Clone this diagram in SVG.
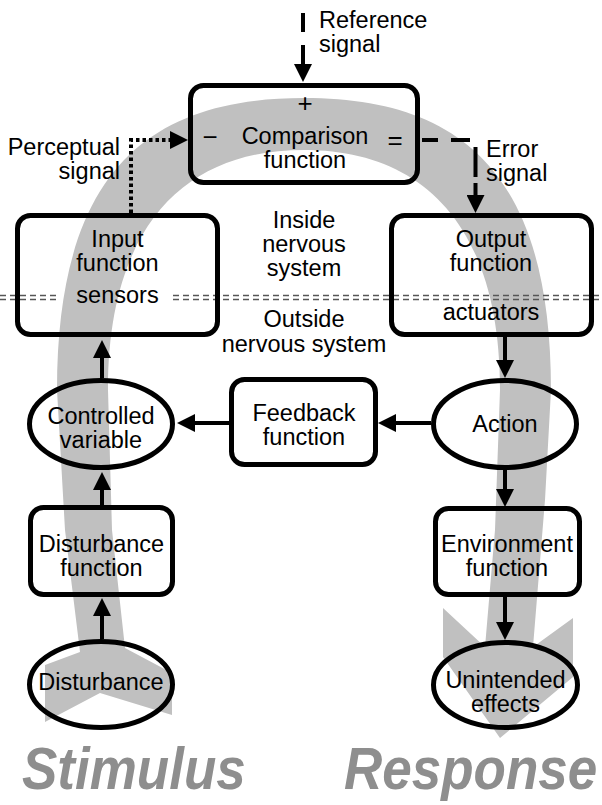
<svg xmlns="http://www.w3.org/2000/svg" width="602" height="805" viewBox="0 0 602 805">
<style>
text{font-family:"Liberation Sans",Arial,Helvetica,sans-serif;font-size:23.5px;fill:#000}
.m{text-anchor:middle}
.e{text-anchor:end}
.sym{font-size:26px}
.node{fill:none;stroke:#000;stroke-width:5}
.c{fill:none;stroke:#000;stroke-width:4}
.dash2{fill:none;stroke:#555;stroke-width:1.3;stroke-dasharray:6 4}
.big{font-size:53px;font-weight:bold;font-style:italic;fill:#8e8e8e}
</style>
<defs>
<marker id="ah" markerUnits="userSpaceOnUse" markerWidth="18" markerHeight="18" refX="0" refY="9" orient="auto" viewBox="0 0 18 18">
<path d="M0,0 L18,9 L0,18 Z" fill="#000" stroke="none"/>
</marker>
</defs>
<rect width="602" height="805" fill="#fff"/>
<g id="band">
<path d="M80 652 L65 530 L57 390 C57 170 150 98 304 98 C458 98 551 170 551 390 L545 500 L533 647 L573 618 L573 677 L500 738 L443 657 L443 608 L485 647 L495 530 L500 390 C500 220 418 150 304 150 C190 150 108 220 108 390 L112 530 L125 648 L172 673 L172 715 L100 693 L45 722 L45 665 Z" fill="#c0c0c0"/>
</g>
<g id="boundary">
<path class="dash2" d="M0 295.5 H58 M173 295.5 H602 M0 299.5 H58 M173 299.5 H602"/>
<text class="m" x="304" y="228">Inside</text>
<text class="m" x="304" y="252">nervous</text>
<text class="m" x="304" y="276">system</text>
<text class="m" x="304" y="327">Outside</text>
<text class="m" x="304" y="352">nervous system</text>
</g>
<g id="connectors">
<path class="c" d="M303 13 V32"/>
<path class="c" d="M303 45 V64" marker-end="url(#ah)"/>
<path class="c" d="M131 213 V140 H170" stroke-dasharray="3.5 3" marker-end="url(#ah)"/>
<path class="c" d="M422 140 H438 M451 140 H470 M475.5 147 V177"/>
<path class="c" d="M475.5 183 V195" marker-end="url(#ah)"/>
<path class="c" d="M102 378 V358" marker-end="url(#ah)"/>
<path class="c" d="M102 505 V490" marker-end="url(#ah)"/>
<path class="c" d="M102 639 V616" marker-end="url(#ah)"/>
<path class="c" d="M505 337 V360" marker-end="url(#ah)"/>
<path class="c" d="M505 470 V489" marker-end="url(#ah)"/>
<path class="c" d="M505 597 V622" marker-end="url(#ah)"/>
<path class="c" d="M431 423 H396" marker-end="url(#ah)"/>
<path class="c" d="M229 423 H195" marker-end="url(#ah)"/>
</g>
<g id="labels">
<text x="319" y="28">Reference</text>
<text x="319" y="52">signal</text>
<text class="e" x="120" y="155">Perceptual</text>
<text class="e" x="120" y="179">signal</text>
<text x="486" y="157">Error</text>
<text x="486" y="181">signal</text>
</g>
<g id="comparison">
<rect class="node" x="190.5" y="85.5" width="227" height="97" rx="13"/>
<text class="m sym" x="305" y="112">+</text>
<text class="m sym" x="210" y="146">−</text>
<text class="m sym" x="395" y="149">=</text>
<text class="m" x="305" y="144">Comparison</text>
<text class="m" x="305" y="168">function</text>
</g>
<g id="input">
<rect class="node" x="17.5" y="215.5" width="200" height="119" rx="13"/>
<text class="m" x="117.5" y="247">Input</text>
<text class="m" x="117.5" y="271">function</text>
<text class="m" x="117.5" y="303">sensors</text>
</g>
<g id="output">
<rect class="node" x="391.5" y="215.5" width="200" height="119" rx="13"/>
<text class="m" x="491" y="247">Output</text>
<text class="m" x="491" y="271">function</text>
<text class="m" x="491" y="320">actuators</text>
</g>
<g id="controlled">
<ellipse class="node" cx="101" cy="424" rx="71.5" ry="43.5"/>
<text class="m" x="101" y="424">Controlled</text>
<text class="m" x="101" y="448">variable</text>
</g>
<g id="feedback">
<rect class="node" x="231.5" y="379.5" width="144" height="85" rx="13"/>
<text class="m" x="304" y="421">Feedback</text>
<text class="m" x="304" y="445">function</text>
</g>
<g id="action">
<ellipse class="node" cx="505" cy="424" rx="71.5" ry="43.5"/>
<text class="m" x="505" y="432">Action</text>
</g>
<g id="disturbance-function">
<rect class="node" x="30.5" y="507.5" width="142" height="87" rx="13"/>
<text class="m" x="101.5" y="552">Disturbance</text>
<text class="m" x="101.5" y="576">function</text>
</g>
<g id="environment">
<rect class="node" x="435.5" y="508.5" width="144" height="86" rx="13"/>
<text class="m" x="507" y="552">Environment</text>
<text class="m" x="507" y="576">function</text>
</g>
<g id="disturbance">
<ellipse class="node" cx="101" cy="684.5" rx="71.5" ry="43"/>
<text class="m" x="101" y="690">Disturbance</text>
</g>
<g id="unintended">
<ellipse class="node" cx="505.5" cy="685" rx="72" ry="42.5"/>
<text class="m" x="505.5" y="688">Unintended</text>
<text class="m" x="505.5" y="712">effects</text>
</g>
<g id="titles">
<text class="big" x="22" y="0" transform="translate(0,789) scale(1,1.1)">Stimulus</text>
<text class="big" x="344" y="0" transform="translate(0,789) scale(1,1.1)">Response</text>
</g>
</svg>
